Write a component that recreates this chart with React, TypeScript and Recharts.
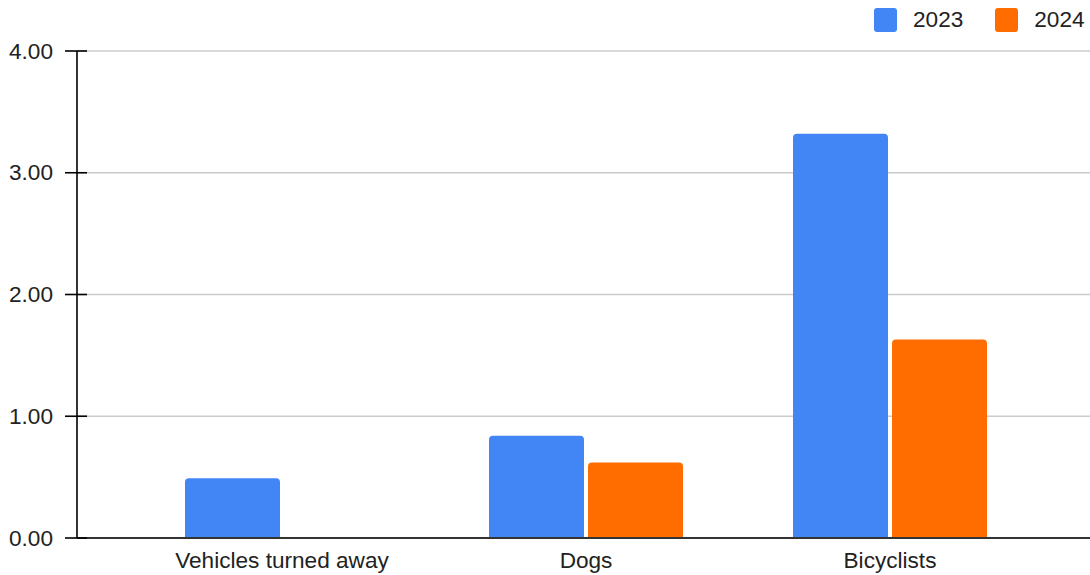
import React from 'react';
import { BarChart, Bar, XAxis, YAxis, CartesianGrid } from 'recharts';

const categories = ['Vehicles turned away', 'Dogs', 'Bicyclists'];
const values2023 = [0.49, 0.84, 3.32];
const values2024: (number | null)[] = [null, 0.62, 1.63];
const yTicks = [0, 1, 2, 3, 4];
const seriesNames = ['2023', '2024'];
const colors = ['#4285F4', '#FF6D01'];

const data = categories.map((c, i) => ({
  name: c,
  s2023: values2023[i],
  s2024: values2024[i],
}));

const FONT = '"Liberation Sans", Arial, Helvetica, sans-serif';
const FS = 22.6;
const TEXT = '#222';

const YTick = (props: any) => {
  const { x, y, payload } = props;
  return (
    <g>
      <line x1={x - 12} x2={x + 10} y1={y} y2={y} stroke="#000" strokeWidth={1.6} />
      <text
        x={x - 24}
        y={y}
        textAnchor="end"
        dominantBaseline="central"
        fontFamily={FONT}
        fontSize={FS}
        fill={TEXT}
      >
        {Number(payload.value).toFixed(2)}
      </text>
    </g>
  );
};

const XTick = (props: any) => {
  const { x, y, payload } = props;
  return (
    <text x={x} y={y + 30} textAnchor="middle" fontFamily={FONT} fontSize={FS} fill={TEXT}>
      {payload.value}
    </text>
  );
};

export default function App() {
  return (
    <div style={{ position: 'relative', width: 1090, height: 575, background: '#fff' }}>
      <style>{`body{margin:0;}`}</style>
      <BarChart
        width={1090}
        height={575}
        data={data}
        margin={{ top: 51, right: 0, bottom: 0, left: 0 }}
        barSize={95}
        barGap={4}
      >
        <CartesianGrid vertical={false} stroke="#cccccc" strokeWidth={1.5} />
        <XAxis
          dataKey="name"
          height={37}
          padding={{ left: 53, right: 48 }}
          axisLine={{ stroke: '#333', strokeWidth: 2 }}
          tickLine={false}
          tickSize={0}
          tickMargin={0}
          tick={<XTick />}
          interval={0}
        />
        <YAxis
          width={77}
          domain={[0, 4]}
          ticks={yTicks}
          axisLine={{ stroke: '#000', strokeWidth: 1.6 }}
          tickLine={false}
          tickSize={0}
          tickMargin={0}
          tick={<YTick />}
          interval={0}
        />
        <Bar dataKey="s2023" name={seriesNames[0]} fill={colors[0]} radius={[4, 4, 0, 0]} isAnimationActive={false} />
        <Bar dataKey="s2024" name={seriesNames[1]} fill={colors[1]} radius={[4, 4, 0, 0]} isAnimationActive={false} />
      </BarChart>
      <div
        style={{
          position: 'absolute',
          top: 8,
          left: 874,
          height: 24,
          display: 'flex',
          alignItems: 'center',
          fontFamily: FONT,
          fontSize: FS,
          color: TEXT,
        }}
      >
        {seriesNames.map((s, i) => (
          <div key={s} style={{ display: 'flex', alignItems: 'center', marginRight: i === 0 ? 32 : 0 }}>
            <div style={{ width: 23, height: 24, background: colors[i], borderRadius: 3, marginRight: 16 }} />
            <span style={{ lineHeight: '24px' }}>{s}</span>
          </div>
        ))}
      </div>
    </div>
  );
}
